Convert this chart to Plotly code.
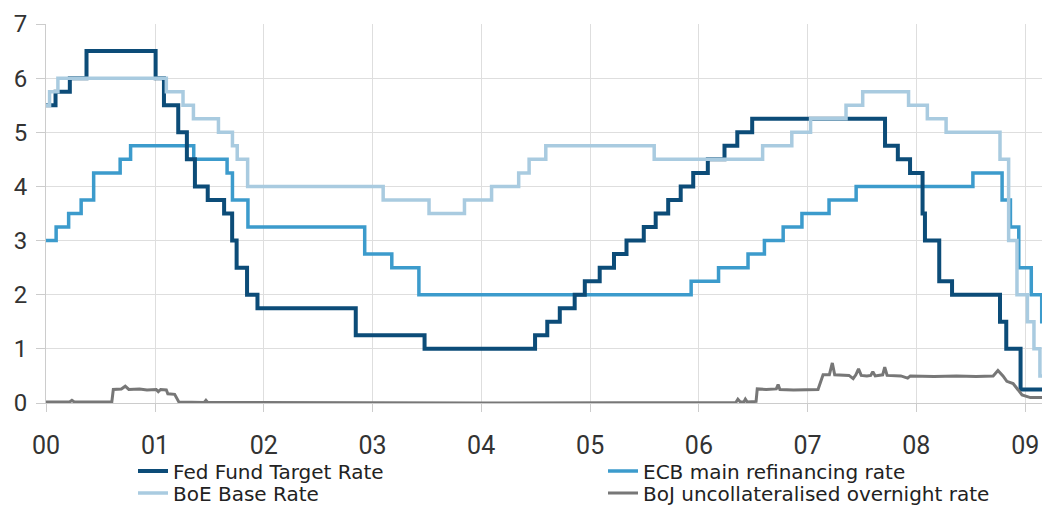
import plotly.graph_objects as go

# ---- Data ----
fed_dates = ["2000-01-01", "2000-02-02", "2000-03-21", "2000-05-16", "2001-01-03", "2001-01-31",
             "2001-03-20", "2001-04-18", "2001-05-15", "2001-06-27", "2001-08-21", "2001-09-17",
             "2001-10-02", "2001-11-06", "2001-12-11", "2002-11-06", "2003-06-25", "2004-06-30",
             "2004-08-10", "2004-09-21", "2004-11-10", "2004-12-14", "2005-02-02", "2005-03-22",
             "2005-05-03", "2005-06-30", "2005-08-09", "2005-09-20", "2005-11-01", "2005-12-13",
             "2006-01-31", "2006-03-28", "2006-05-10", "2006-06-29", "2007-09-18", "2007-10-31",
             "2007-12-11", "2008-01-22", "2008-01-30", "2008-03-18", "2008-04-30", "2008-10-08",
             "2008-10-29", "2008-12-16", "2009-02-28"]
fed_values = [5.5, 5.75, 6.0, 6.5, 6.0, 5.5, 5.0, 4.5, 4.0, 3.75, 3.5, 3.0, 2.5, 2.0, 1.75, 1.25,
              1.0, 1.25, 1.5, 1.75, 2.0, 2.25, 2.5, 2.75, 3.0, 3.25, 3.5, 3.75, 4.0, 4.25, 4.5,
              4.75, 5.0, 5.25, 4.75, 4.5, 4.25, 3.5, 3.0, 2.25, 2.0, 1.5, 1.0, 0.25, 0.25]

ecb_dates = ["2000-01-01", "2000-02-04", "2000-03-17", "2000-04-28", "2000-06-09", "2000-09-06",
             "2000-10-11", "2001-05-11", "2001-08-31", "2001-09-18", "2001-11-09", "2002-12-06",
             "2003-03-07", "2003-06-06", "2005-12-06", "2006-03-08", "2006-06-15", "2006-08-09",
             "2006-10-11", "2006-12-13", "2007-03-14", "2007-06-13", "2008-07-09", "2008-10-15",
             "2008-11-12", "2008-12-10", "2009-01-21", "2009-02-25", "2009-02-28"]
ecb_values = [3.0, 3.25, 3.5, 3.75, 4.25, 4.5, 4.75, 4.5, 4.25, 3.75, 3.25, 2.75, 2.5, 2.0, 2.25,
              2.5, 2.75, 3.0, 3.25, 3.5, 3.75, 4.0, 4.25, 3.75, 3.25, 2.5, 2.0, 1.5, 1.5]

boe_dates = ["2000-01-01", "2000-01-13", "2000-02-10", "2001-02-08", "2001-04-05", "2001-05-10",
             "2001-08-02", "2001-09-18", "2001-10-04", "2001-11-08", "2003-02-06", "2003-07-10",
             "2003-11-06", "2004-02-05", "2004-05-06", "2004-06-10", "2004-08-05", "2005-08-04",
             "2006-08-03", "2006-11-09", "2007-01-11", "2007-05-10", "2007-07-05", "2007-12-06",
             "2008-02-07", "2008-04-10", "2008-10-08", "2008-11-06", "2008-12-04", "2009-01-08",
             "2009-01-30", "2009-02-19", "2009-02-28"]
boe_values = [5.5, 5.75, 6.0, 5.75, 5.5, 5.25, 5.0, 4.75, 4.5, 4.0, 3.75, 3.5, 3.75, 4.0, 4.25,
              4.5, 4.75, 4.5, 4.75, 5.0, 5.25, 5.5, 5.75, 5.5, 5.25, 5.0, 4.5, 3.0, 2.0, 1.5,
              1.0, 0.5, 0.5]

boj_dates = ["2000-01-01", "2000-03-20", "2000-03-28", "2000-04-05", "2000-08-09", "2000-08-14",
             "2000-09-10", "2000-09-23", "2000-10-05", "2000-11-10", "2000-12-05", "2000-12-20",
             "2001-01-05", "2001-01-12", "2001-01-20", "2001-02-08", "2001-02-13", "2001-03-08",
             "2001-03-14", "2001-03-22", "2001-06-15", "2001-06-21", "2001-06-27", "2002-06-01",
             "2004-01-01", "2006-05-05", "2006-05-12", "2006-05-20", "2006-06-01", "2006-06-06",
             "2006-06-12", "2006-07-12", "2006-07-16", "2006-08-15", "2006-09-18", "2006-09-24",
             "2006-09-30", "2006-11-15", "2006-12-17", "2007-02-05", "2007-02-22", "2007-03-15",
             "2007-03-25", "2007-04-02", "2007-05-20", "2007-06-03", "2007-06-12", "2007-06-21",
             "2007-06-30", "2007-07-19", "2007-08-01", "2007-08-08", "2007-08-16", "2007-09-10",
             "2007-09-17", "2007-09-25", "2007-11-10", "2007-12-03", "2007-12-12", "2008-03-01",
             "2008-05-15", "2008-07-20", "2008-09-15", "2008-10-01", "2008-10-18", "2008-10-31",
             "2008-11-21", "2008-12-21", "2009-01-18", "2009-02-28"]
boj_values = [0.02, 0.02, 0.05, 0.02, 0.02, 0.25, 0.26, 0.31, 0.25, 0.26, 0.24, 0.25, 0.25, 0.21,
              0.25, 0.24, 0.17, 0.16, 0.10, 0.02, 0.01, 0.05, 0.01, 0.002, 0.001, 0.01, 0.07,
              0.02, 0.02, 0.07, 0.02, 0.03, 0.26, 0.25, 0.26, 0.34, 0.25, 0.24, 0.24, 0.25, 0.52,
              0.52, 0.74, 0.52, 0.51, 0.45, 0.52, 0.63, 0.51, 0.50, 0.51, 0.58, 0.50, 0.52, 0.66,
              0.51, 0.50, 0.46, 0.50, 0.49, 0.50, 0.49, 0.50, 0.60, 0.50, 0.40, 0.36, 0.15,
              0.10, 0.10]

x_range = ["2000-01-01", "2009-02-26"]

C_FED = "#0c4c78"
C_ECB = "#3c9bcc"
C_BOE = "#a9cbe0"
C_BOJ = "#777777"
GRID = "#dedede"
TICK_FONT = "Roboto, sans-serif"
LEG_FONT = "DejaVu Sans, sans-serif"

fig = go.Figure()
# draw order: ECB, Fed, BoE, BoJ
fig.add_trace(go.Scatter(x=ecb_dates, y=ecb_values, mode="lines", line=dict(color=C_ECB, width=3.5, shape="hv"),
                         name="ECB main refinancing rate", legend="legend2"))
fig.add_trace(go.Scatter(x=fed_dates, y=fed_values, mode="lines", line=dict(color=C_FED, width=4, shape="hv"),
                         name="Fed Fund Target Rate", legend="legend"))
fig.add_trace(go.Scatter(x=boe_dates, y=boe_values, mode="lines", line=dict(color=C_BOE, width=3.5, shape="hv"),
                         name="BoE Base Rate", legend="legend3"))
fig.add_trace(go.Scatter(x=boj_dates, y=boj_values, mode="lines", line=dict(color=C_BOJ, width=3),
                         name="BoJ uncollateralised overnight rate", legend="legend4"))


def leg(x, y):
    return dict(orientation="v", xref="container", yref="container", x=x, y=y,
                xanchor="left", yanchor="middle",
                font=dict(family=LEG_FONT, size=20, color="#222222"),
                bgcolor="rgba(0,0,0,0)", tracegroupgap=0, borderwidth=0)


row1 = 1 - 471 / 506
row2 = 1 - 493 / 506
col1 = 133 / 1042
col2 = 603 / 1042

fig.update_layout(
    width=1042, height=506,
    margin=dict(l=46, r=0, t=24, b=103, autoexpand=False),
    paper_bgcolor="white", plot_bgcolor="white",
    showlegend=True,
    legend=leg(col1, row1),
    legend2=leg(col2, row1),
    legend3=leg(col1, row2),
    legend4=leg(col2, row2),
    xaxis=dict(type="date", range=x_range, tick0="2000-01-01", dtick="M12", tickformat="%y",
               showgrid=True, gridcolor=GRID, gridwidth=1,
               showline=True, linecolor="#cccccc", linewidth=1,
               ticks="outside", ticklen=8, tickcolor="#cccccc",
               ticklabelstandoff=12,
               tickfont=dict(family=TICK_FONT, size=25, color="#333333"), zeroline=False),
    yaxis=dict(range=[0, 7], dtick=1, showgrid=True, gridcolor=GRID, gridwidth=1,
               showline=True, linecolor="#cccccc", linewidth=1,
               ticks="outside", ticklen=9, tickcolor="#cccccc",
               ticklabelstandoff=4,
               tickfont=dict(family=TICK_FONT, size=24, color="#333333"), zeroline=False),
)

fig.write_html("out.html", config={"displayModeBar": False},
               post_script="document.body.style.margin='0';")
